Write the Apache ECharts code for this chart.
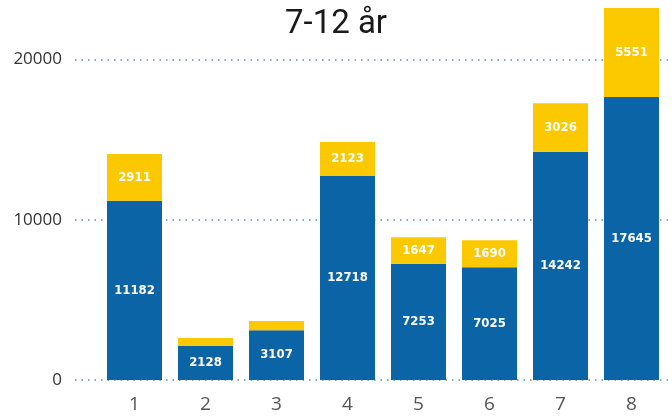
<!DOCTYPE html>
<html>
<head>
<meta charset="utf-8">
<script src="https://cdn.jsdelivr.net/npm/echarts@6/dist/echarts.min.js"></script>
<style>
  html, body { margin: 0; padding: 0; background: #fff; }
  #chart { width: 672px; height: 419px; }
</style>
</head>
<body>
<div id="chart"></div>
<script>
// Age group 7-12: two stacked components per category
const categories = ['1', '2', '3', '4', '5', '6', '7', '8'];
const blueValues = [11182, 2128, 3107, 12718, 7253, 7025, 14242, 17645];
const yellowValues = [2911, 490, 570, 2123, 1647, 1690, 3026, 5551];
const yTicks = [0, 10000, 20000];
const titleText = '7-12 år';

const BLUE = '#0a64a6';
const YELLOW = '#fcc800';
const Y_MAX = 23700;

// small segments don't get a value label
function labelFor(v) {
  return v >= 1000 ? String(v) : '';
}

const valueLabel = {
  show: true,
  position: 'inside',
  color: '#fff',
  fontFamily: 'DejaVu Sans Condensed',
  fontWeight: 'bold',
  fontSize: 13,
  formatter: p => labelFor(p.value)
};

const chart = echarts.init(document.getElementById('chart'));
chart.setOption({
  animation: false,
  title: {
    text: titleText,
    left: 'center',
    top: 3,
    textStyle: { fontFamily: 'Roboto', fontWeight: 'normal', fontSize: 33, color: '#1a1a1a' }
  },
  grid: [
    // plot area for the bars
    { left: 99, right: 5, top: 0, bottom: 39, containLabel: false },
    // wider area carrying the dotted gridlines and tick labels
    { left: 75, right: 0, top: 0, bottom: 39, containLabel: false }
  ],
  xAxis: [
    {
      type: 'category', data: categories, gridIndex: 0,
      axisLine: { show: false }, axisTick: { show: false },
      axisLabel: { color: '#555', fontSize: 19, fontFamily: 'Open Sans', margin: 15 }
    },
    { type: 'value', gridIndex: 1, show: false, min: 0, max: 1 }
  ],
  yAxis: [
    { type: 'value', gridIndex: 0, min: 0, max: Y_MAX, show: false, splitLine: { show: false } },
    {
      type: 'value', gridIndex: 1, min: 0, max: Y_MAX, interval: 10000,
      axisLine: { show: false }, axisTick: { show: false },
      axisLabel: {
        color: '#333', fontSize: 17, fontFamily: 'Open Sans', margin: 13,
        showMaxLabel: false,
        formatter: v => (yTicks.includes(v) ? String(v) : '')
      },
      splitLine: {
        show: true, showMaxLine: false,
        lineStyle: { color: '#5a8fb8', type: [1.5, 5], width: 1.5 }
      }
    }
  ],
  series: [
    {
      name: 'blue', type: 'bar', stack: 'total', xAxisIndex: 0, yAxisIndex: 0,
      data: blueValues, barWidth: 55, z: 3,
      itemStyle: { color: BLUE }, label: valueLabel
    },
    {
      name: 'yellow', type: 'bar', stack: 'total', xAxisIndex: 0, yAxisIndex: 0,
      data: yellowValues, barWidth: 55, z: 3,
      itemStyle: { color: YELLOW }, label: valueLabel
    }
  ]
});
</script>
</body>
</html>
